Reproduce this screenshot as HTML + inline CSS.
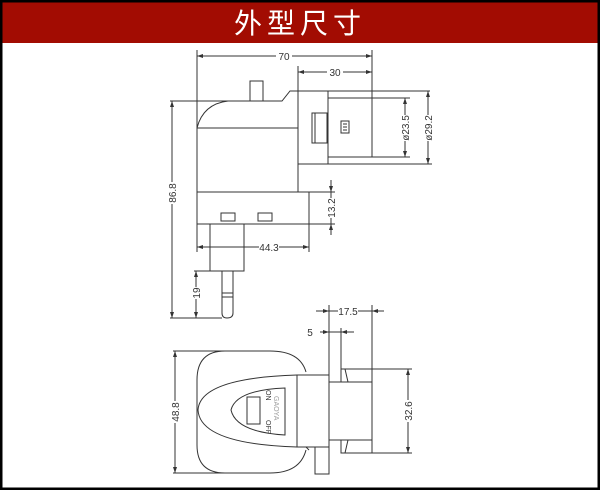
<!DOCTYPE html>
<html><head><meta charset="utf-8"><style>
html,body{margin:0;padding:0;background:#fff}
svg{display:block}
</style></head><body>
<svg width="600" height="490" viewBox="0 0 600 490" xmlns="http://www.w3.org/2000/svg">
<rect x="0" y="0" width="600" height="490" fill="#fff"/>
<rect x="0" y="0" width="600" height="43" fill="#a20c02"/>
<text x="300" y="33" text-anchor="middle" font-family="'Noto Sans CJK SC',sans-serif" font-size="28" fill="#fff" letter-spacing="5">外型尺寸</text>
<rect x="1" y="1" width="598" height="488" fill="none" stroke="#000" stroke-width="3"/>
<g fill="none" stroke="#333" stroke-width="1">
<!-- top view -->
<rect x="250" y="81" width="13" height="20"/>
<path d="M228,101 L282,101 L290,91 L430,91"/>
<path d="M228,101 Q203,104 197,128 L197,192"/>
<path d="M197,128 L298,128"/>
<rect x="298" y="91" width="30" height="73"/>
<path d="M298,164 L298,192"/>
<path d="M298,164 L432,164"/>
<rect x="328" y="98" width="44" height="59"/>
<path d="M372,98 L410,98 M372,157 L410,157"/>
<rect x="312" y="113" width="15" height="30"/>
<path d="M315,113 L315,143"/>
<rect x="341" y="121" width="8" height="12"/>
<path d="M343,124 L347,124 M343,127 L347,127 M343,130 L347,130"/>
<rect x="197" y="192" width="112" height="32"/>
<rect x="221" y="213" width="14" height="8"/>
<rect x="258" y="213" width="14" height="8"/>
<rect x="210" y="224" width="34" height="47"/>
<path d="M222,271 L222,313 Q222,318 227,318 Q233,318 233,313 L233,271"/>
<path d="M222,293 L233,293 M222,297 L233,297"/>
<!-- top dims -->
<path d="M197,50 L197,128 M372,50 L372,98 M298,66 L298,91"/>
<path d="M197,56 L372,56 M298,72 L372,72"/>
<path d="M405,98 L405,157 M428,91 L428,164"/>
<path d="M309,192 L335,192 M309,224 L335,224 M331,180 L331,235"/>
<path d="M197,224 L197,252 M309,224 L309,252 M197,247 L309,247"/>
<path d="M170,101 L228,101 M172,101 L172,318 M170,318 L222,318"/>
<path d="M194,271 L222,271 M196,271 L196,318"/>
<!-- front view -->
<path d="M306,372 Q300,351 270,351 L225,351 Q197,351 197,380 L197,445 Q197,473 225,473 L270,473 Q300,473 306,450"/>
<path d="M297,375 Q200,378 198,410 Q200,444 297,447"/>
<path d="M231,410 Q236,390 285,388 L285,435 Q236,432 231,410 Z"/>
<rect x="247" y="397" width="13" height="27"/>
<rect x="297" y="375" width="32" height="72" fill="#fff"/>
<rect x="329" y="382" width="43" height="58"/>
<path d="M341,382 L341,369 L372,369 L372,382 M345,369 L348,382"/>
<path d="M341,440 L341,453 L372,453 L372,440 M345,453 L348,440"/>
<rect x="315" y="447" width="14" height="27"/>
<path d="M306,447 L309,450"/>
<!-- front dims -->
<path d="M329,305 L329,382 M372,305 L372,369 M341,328 L341,382"/>
<path d="M316,311 L384,311 M320,332 L354,332"/>
<path d="M173,351 L225,351 M175,351 L175,473 M173,473 L225,473"/>
<path d="M372,369 L412,369 M372,453 L412,453 M408,369 L408,453"/>
</g>
<g fill="#333">
<path d="M197,56 l6,-2 v4z M372,56 l-6,-2 v4z M298,72 l6,-2 v4z M372,72 l-6,-2 v4z"/>
<path d="M405,98 l-2,6 h4z M405,157 l-2,-6 h4z M428,91 l-2,6 h4z M428,164 l-2,-6 h4z"/>
<path d="M331,192 l-2,-6 h4z M331,224 l-2,6 h4z"/>
<path d="M197,247 l6,-2 v4z M309,247 l-6,-2 v4z"/>
<path d="M172,101 l-2,6 h4z M172,318 l-2,-6 h4z M196,271 l-2,6 h4z M196,318 l-2,-6 h4z"/>
<path d="M329,311 l-6,-2 v4z M372,311 l6,-2 v4z M329,332 l-6,-2 v4z M341,332 l6,-2 v4z"/>
<path d="M175,351 l-2,6 h4z M175,473 l-2,-6 h4z M408,369 l-2,6 h4z M408,453 l-2,-6 h4z"/>
</g>
<g font-family="'Liberation Sans',sans-serif" font-size="10" fill="#333">
<rect x="276" y="51" width="16" height="10" fill="#fff"/>
<text x="284" y="60" text-anchor="middle">70</text>
<rect x="327" y="67" width="16" height="10" fill="#fff"/>
<text x="335" y="76" text-anchor="middle">30</text>
<rect x="259" y="242" width="20" height="10" fill="#fff"/>
<text x="269" y="251" text-anchor="middle">44.3</text>
<rect x="338" y="306" width="20" height="10" fill="#fff"/>
<text x="348" y="315" text-anchor="middle">17.5</text>
<text x="310" y="336" text-anchor="middle">5</text>
<g transform="translate(176,193) rotate(-90)"><rect x="-11" y="-9" width="22" height="10" fill="#fff"/><text text-anchor="middle">86.8</text></g>
<g transform="translate(200,293) rotate(-90)"><rect x="-6" y="-9" width="12" height="10" fill="#fff"/><text text-anchor="middle">19</text></g>
<g transform="translate(335,208) rotate(-90)"><rect x="-10" y="-9" width="20" height="10" fill="#fff"/><text text-anchor="middle">13.2</text></g>
<g transform="translate(409,128) rotate(-90)"><rect x="-13" y="-9" width="26" height="10" fill="#fff"/><text text-anchor="middle">ø23.5</text></g>
<g transform="translate(432,128) rotate(-90)"><rect x="-13" y="-9" width="26" height="10" fill="#fff"/><text text-anchor="middle">ø29.2</text></g>
<g transform="translate(179,412) rotate(-90)"><rect x="-11" y="-9" width="22" height="10" fill="#fff"/><text text-anchor="middle">48.8</text></g>
<g transform="translate(412,411) rotate(-90)"><rect x="-11" y="-9" width="22" height="10" fill="#fff"/><text text-anchor="middle">32.6</text></g>
<g font-size="7"><text transform="translate(266,390) rotate(90)">ON</text>
<text transform="translate(266,420) rotate(90)">OFF</text>
<text transform="translate(274,396) rotate(90)" fill="#999">GAOYA</text></g>
</g>
</svg>
</body></html>
